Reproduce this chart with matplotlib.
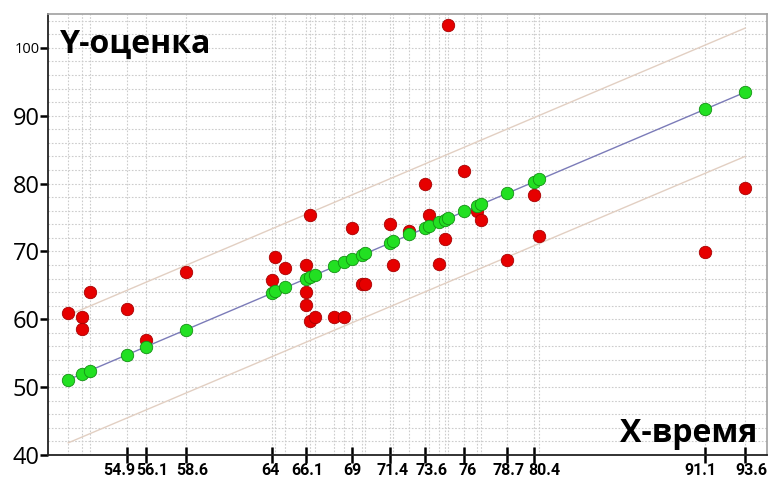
import matplotlib
matplotlib.use("Agg")
import matplotlib.pyplot as plt
import matplotlib.transforms as mtransforms
import numpy as np

plt.rcParams['font.family'] = ['Open Sans', 'DejaVu Sans']

# observed values (red)
x_obs = [51.25, 52.1, 52.1, 52.6, 54.9, 56.1, 58.6, 64.0, 64.2, 64.8,
         66.1, 66.1, 66.1, 66.4, 66.4, 66.7, 67.9, 68.5, 69.0, 69.6,
         69.8, 71.4, 71.6, 72.6, 73.6, 73.8, 74.45, 74.8, 75.0, 76.0,
         76.8, 77.1, 78.7, 80.4, 80.7, 91.1, 93.6]
y_obs = [61.0, 60.3, 58.6, 64.0, 61.5, 56.9, 66.9, 65.8, 69.2, 67.5,
         68.0, 64.0, 62.1, 75.3, 59.8, 60.3, 60.3, 60.3, 73.5, 65.2,
         65.2, 74.0, 68.0, 73.0, 79.9, 75.4, 68.1, 71.8, 103.3, 81.9,
         75.9, 74.6, 68.7, 78.3, 72.3, 69.9, 79.4]

# estimated values (green)
x_fit = [51.25, 52.1, 52.6, 54.9, 56.1, 58.6, 64.0, 64.2, 64.8, 66.1,
         66.4, 66.7, 67.9, 68.5, 69.0, 69.6, 69.8, 71.4, 71.6, 72.6,
         73.6, 73.8, 74.45, 74.8, 75.0, 76.0, 76.8, 77.1, 78.7, 80.4,
         80.7, 91.1, 93.6]
y_fit = [51.1, 51.9, 52.45, 54.75, 55.9, 58.45, 63.9, 64.1, 64.7, 65.95,
         66.3, 66.6, 67.8, 68.4, 68.9, 69.5, 69.7, 71.3, 71.5, 72.5,
         73.5, 73.7, 74.35, 74.7, 74.9, 75.9, 76.7, 77.0, 78.6, 80.3,
         80.6, 91.0, 93.45]

# confidence band ends
band_x = [51.25, 93.6]
band_hi = [60.6, 102.9]
band_lo = [41.8, 84.0]

x_labels = [54.9, 56.1, 58.6, 64, 66.1, 69, 71.4, 73.6, 76, 78.7, 80.4, 91.1, 93.6]
y_labels = [40, 50, 60, 70, 80, 90, 100]

fig = plt.figure(figsize=(7.75, 4.78), dpi=100)
ax = fig.add_axes([0.0623, 0.048, 0.928, 0.923])

ax.plot(band_x, band_hi, color='#e2cfc2', lw=1.0, zorder=2)
ax.plot(band_x, band_lo, color='#e2cfc2', lw=1.0, zorder=2)
ax.scatter(x_obs, y_obs, s=80, color='#e60000', edgecolors='#a80000', linewidths=0.6, zorder=3)
ax.plot([x_fit[0], x_fit[-1]], [y_fit[0], y_fit[-1]], color='#7b7bb8', lw=1.0, zorder=4)
ax.scatter(x_fit, y_fit, s=80, color='#22e022', edgecolors='#139013', linewidths=0.6, zorder=5)

ax.set_xlim(50, 95)
ax.set_ylim(40, 105)

ax.set_xticks(x_labels)
ax.set_xticklabels([f"{v:g}" for v in x_labels], fontsize=11.5, fontweight='bold',
                   family=['Roboto', 'DejaVu Sans'])
ax.set_xticks(x_fit, minor=True)
ax.set_yticks(y_labels)
ax.set_yticklabels([str(v) for v in y_labels], fontsize=17)
ax.get_yticklabels()[-1].set_fontsize(10.5)
ax.set_yticks(np.arange(40, 106, 2), minor=True)

ax.tick_params(axis='x', which='major', direction='inout', length=12, width=1.8, pad=0)
ax.tick_params(axis='y', which='major', direction='out', length=6, width=1.8, pad=0)
ax.tick_params(which='minor', length=0)

# crowded labels are nudged sideways, as in the original
nudge_px = [-7, 6, 6, -2, 2, 0, 2, 6, 4, 2, 10, -5, 6]
for lab, dx in zip(ax.get_xticklabels(), nudge_px):
    lab.set_transform(lab.get_transform() +
                      mtransforms.ScaledTranslation(dx / 100, 0, fig.dpi_scale_trans))

ax.grid(True, which='both', color='#cccccc', linestyle=(0, (1.5, 1.5)), linewidth=0.8, zorder=0)
ax.set_axisbelow(True)

for s in ['top', 'right']:
    ax.spines[s].set_color('#a0a0a0')
    ax.spines[s].set_linewidth(1.2)
for s in ['left', 'bottom']:
    ax.spines[s].set_color('#222222')
    ax.spines[s].set_linewidth(1.3)

fig.text(60 / 775, 1 - 44 / 478, "Y-оценка", fontsize=23, fontweight='bold', va='center', ha='left')
fig.text(757 / 775, 1 - 433 / 478, "X-время", fontsize=23, fontweight='bold', va='center', ha='right')

fig.savefig("out.png", dpi=100)
